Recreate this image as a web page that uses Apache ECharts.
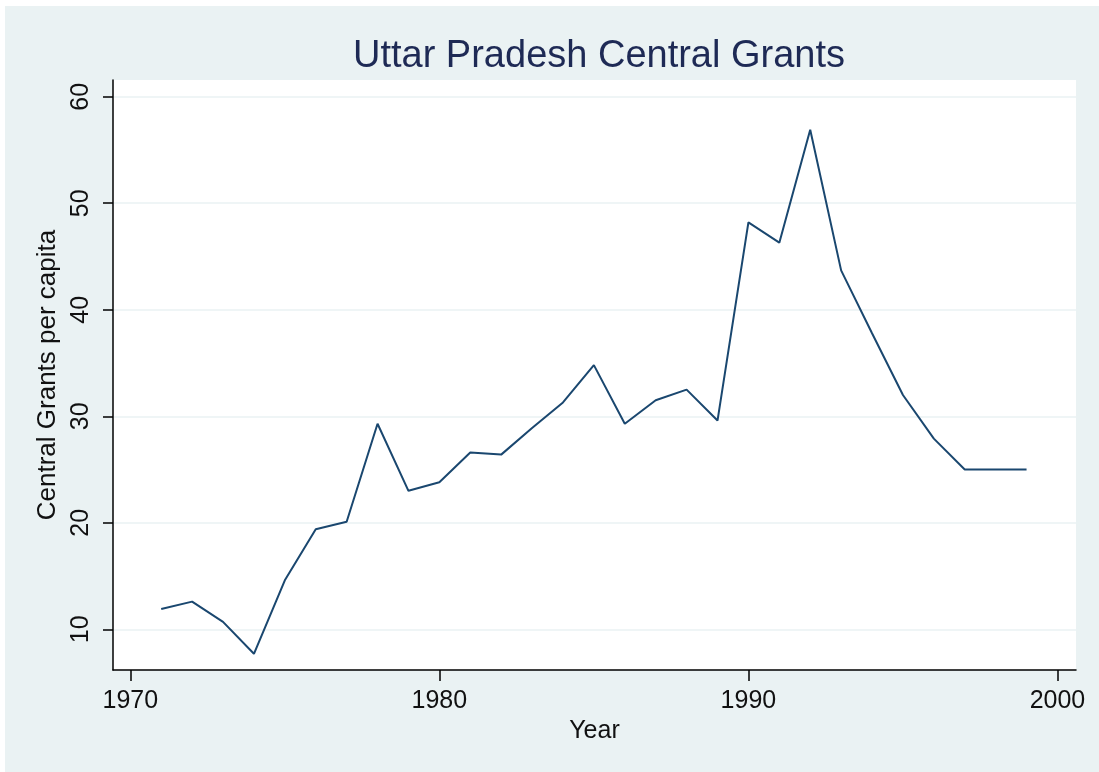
<!DOCTYPE html>
<html>
<head>
<meta charset="utf-8">
<script src="https://cdn.jsdelivr.net/npm/echarts@6/dist/echarts.min.js"></script>
<style>
    html, body { margin: 0; padding: 0; background: #fff; }
    #wrap { position: relative; width: 1099px; height: 772px; background: #fff; }
    #region { position: absolute; left: 5px; top: 6px; right: 0; bottom: 0; background: #eaf2f3; }
    #chart { position: absolute; left: 0; top: 0; width: 1099px; height: 772px; }
</style>
</head>
<body>
<div id="wrap">
    <div id="region"></div>
    <div id="chart"></div>
</div>
<script>
'use strict';

const years = [
    1971, 1972, 1973, 1974, 1975, 1976, 1977, 1978, 1979, 1980,
    1981, 1982, 1983, 1984, 1985, 1986, 1987, 1988, 1989, 1990,
    1991, 1992, 1993, 1994, 1995, 1996, 1997, 1998, 1999
];
const grantsPerCapita = [
    11.9, 12.6, 10.7, 7.7, 14.6, 19.4, 20.1, 29.3, 23.0, 23.8,
    26.6, 26.4, 28.9, 31.3, 34.8, 29.3, 31.5, 32.5, 29.6, 48.2,
    46.3, 56.9, 43.7, 37.8, 32.0, 27.9, 25.0, 25.0, 25.0
];
const xTicks = [1970, 1980, 1990, 2000];
const yTicks = [10, 20, 30, 40, 50, 60];

const font = '"Liberation Sans", Arial, sans-serif';
const ink = '#111';

const chart = echarts.init(document.getElementById('chart'), null, { renderer: 'canvas' });

chart.setOption({
    animation: false,
    title: {
        text: 'Uttar Pradesh Central Grants',
        left: 594,
        top: 33,
        textAlign: 'center',
        textStyle: { fontFamily: font, fontSize: 38, fontWeight: 'normal', color: '#1e2a55' }
    },
    grid: {
        left: 113,
        right: 23,
        top: 80,
        bottom: 102,
        show: true,
        backgroundColor: '#fff',
        borderWidth: 0
    },
    xAxis: {
        type: 'value',
        min: 1969.44,
        max: 2000.6,
        name: 'Year',
        nameLocation: 'middle',
        nameGap: 44,
        nameTextStyle: { fontFamily: font, fontSize: 25, color: ink },
        axisLine: { show: true, onZero: false, lineStyle: { color: '#000', width: 1.5 } },
        axisTick: { show: true, length: 11, customValues: xTicks, lineStyle: { color: '#000', width: 1.5 } },
        axisLabel: {
            customValues: xTicks,
            formatter: (v) => String(v),
            margin: 19,
            fontFamily: font,
            fontSize: 25,
            color: ink
        },
        splitLine: { show: false }
    },
    yAxis: {
        type: 'value',
        min: 6.18,
        max: 61.57,
        name: 'Central Grants per capita',
        nameLocation: 'middle',
        nameGap: 50,
        nameTextStyle: { fontFamily: font, fontSize: 26, color: ink },
        axisLine: { show: true, onZero: false, lineStyle: { color: '#000', width: 1.5 } },
        axisTick: { show: true, length: 10, customValues: yTicks, lineStyle: { color: '#000', width: 1.5 } },
        axisLabel: { customValues: yTicks, rotate: 90, margin: 19, fontFamily: font, fontSize: 25, color: ink },
        splitLine: { show: true, lineStyle: { color: '#eaf2f3', width: 1.5 } }
    },
    series: [{
        type: 'line',
        data: years.map((y, i) => [y, grantsPerCapita[i]]),
        showSymbol: false,
        lineStyle: { color: '#1a476f', width: 2 },
        itemStyle: { color: '#1a476f' }
    }]
});
</script>
</body>
</html>
